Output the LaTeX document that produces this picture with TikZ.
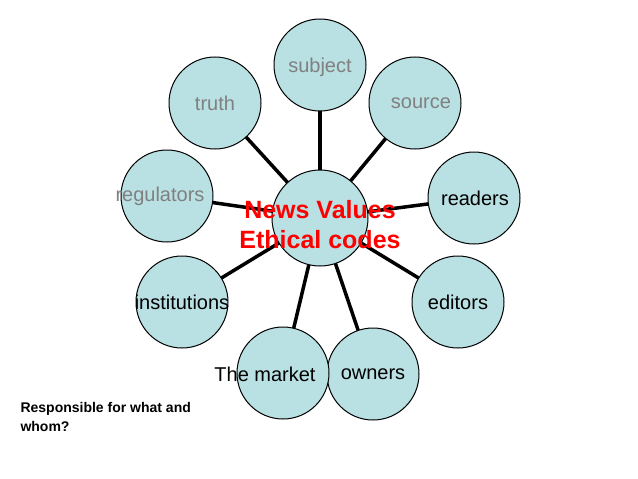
\documentclass[tikz,border=0pt]{standalone}
\usepackage{fontspec}
\setmainfont{Liberation Sans}
\begin{document}
\begin{tikzpicture}[x=1pt,y=-1pt,
  circ/.style={circle,draw=black,line width=1pt,fill=cfill,minimum size=92pt,inner sep=0pt},
  spoke/.style={line width=3.5pt},
  gl/.style={text=gtext,font=\fontsize{20}{22}\selectfont},
  bl/.style={text=black,font=\fontsize{20}{22}\selectfont}]
\definecolor{cfill}{RGB}{185,224,226}
\definecolor{gtext}{RGB}{128,128,128}
\useasboundingbox (0,0) rectangle (638,479);
\coordinate (c0) at (320,218);
\foreach \n/\x/\y in {subject/320/65,source/415/103,readers/474/198,editors/458/302,owners/373/374,market/283/373,institutions/182/302,regulators/167/196,truth/215/103}
  \coordinate (p\n) at (\x,\y);
\foreach \n in {subject,source,readers,editors,owners,market,institutions,regulators,truth}
  \draw[spoke] (c0) -- (p\n);
\foreach \n in {subject,source,readers,editors,owners,market,institutions,regulators,truth}
  \node[circ] (c\n) at (p\n) {};
\node[circ,minimum size=96pt] (center) at (c0) {};
\node[gl] (tsubject) at (320,67) {subject};
\node[gl] (tsource) at (421,103) {source};
\node[gl] (ttruth) at (215,103) {truth};
\node[gl] (tregulators) at (160,196) {regulators};
\node[bl] (treaders) at (475,198) {readers};
\node[bl] (teditors) at (458,302) {editors};
\node[bl] (towners) at (373,374) {owners};
\node[bl] (tmarket) at (265,374) {The market};
\node[bl] (tinst) at (182,302) {institutions};
\node[text=red,font=\bfseries\fontsize{25}{30}\selectfont,align=center] (ctext) at (320,225) {News Values\\Ethical codes};
\node[anchor=north west,align=left,font=\bfseries\fontsize{14}{19}\selectfont] (q) at (17,399) {Responsible for what and\\whom?};
\end{tikzpicture}
\end{document}
